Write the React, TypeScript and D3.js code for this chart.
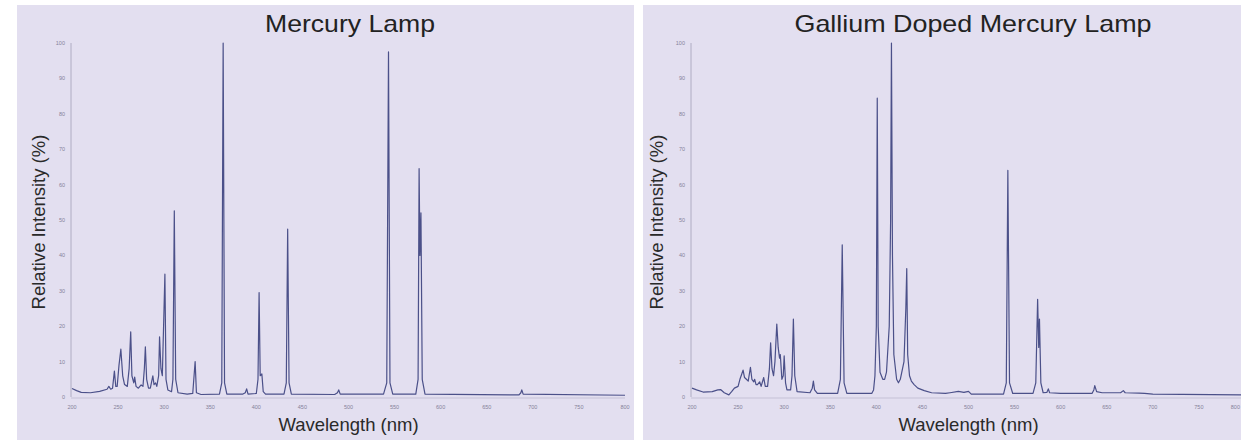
import React from 'react';
import * as d3 from 'd3';

// spectra: wavelength (nm) and relative intensity (%)
const mercuryNm = [
  200, 205, 210, 220, 230, 238, 240, 242, 244, 246, 247.5, 249, 251, 253, 255, 257, 260, 262, 263.7, 265,
  267, 268, 269.5, 272, 275, 277, 278.5, 279.6, 281, 283, 285, 287.7, 289, 290.7, 292, 294, 295, 296.5, 298, 300.8,
  302, 304, 308, 309.5, 311, 312.5, 315, 325, 331, 333.6, 335, 340, 360, 362.5, 364, 365.5, 368, 385, 388, 389.5,
  391, 400, 401.8, 403, 404.2, 406, 407.5, 410, 430, 432.5, 434, 435.5, 438, 485, 488, 489.4, 491, 538, 541.5, 543.4,
  545, 548, 573, 575.5, 576.6, 577.5, 578.6, 580, 583, 685, 687, 688, 689.5, 800,
];
const mercuryPct = [
  2.4, 1.8, 1.3, 1.2, 1.6, 2.2, 3.0, 2.2, 2.5, 7.3, 3, 3, 9, 13.5, 6, 3.5, 3, 8, 18.4, 6,
  4, 5.6, 3, 2.5, 3.4, 3, 8, 14.2, 5, 2.5, 2.5, 6, 3.5, 4, 3, 6, 17, 8, 6, 34.7,
  5, 2, 1.5, 5, 52.6, 5, 1.2, 0.8, 1, 10, 1.2, 0.7, 0.8, 4, 100, 4, 0.8, 0.8, 1.2, 2.3,
  0.8, 1, 5, 29.5, 6, 6.5, 1.5, 0.8, 0.8, 4, 47.4, 4, 0.8, 0.7, 1.2, 2, 0.8, 0.8, 4, 97.5,
  4, 0.8, 0.8, 5, 64.5, 40, 52, 5, 0.8, 0.6, 1.2, 2, 0.8, 0.5,
];

const galliumNm = [
  200, 205, 212, 222, 228, 231, 235, 240, 243, 246, 250, 252, 254, 255.4, 257, 259, 261, 263.4, 265, 267,
  268, 269.5, 271, 273.4, 275, 277.8, 279.5, 282, 284, 285.3, 286.8, 288.5, 290, 292, 293.5, 295, 295.8, 297.5, 299, 300,
  301.5, 303, 307, 308.5, 310, 311.5, 314, 328, 330.5, 331.7, 333, 336, 358, 361, 363, 365, 368, 395, 397, 398.5,
  400, 401, 402, 404, 407, 409, 411, 414, 415.5, 416.4, 417.5, 419, 422, 424, 426, 430, 432, 433, 434, 436,
  438, 441, 445, 452, 460, 475, 480, 489, 495, 500, 503, 538, 541, 542.7, 544.5, 548, 570, 573, 575, 576.2,
  577, 578.5, 581, 585, 586.6, 588, 600, 634, 636, 637, 639, 645, 665, 668, 670, 685, 691, 700, 800,
];
const galliumPct = [
  2.5, 2, 1.4, 1.5, 2, 2.1, 1.2, 0.6, 1.5, 2.5, 3, 5, 6.5, 7.6, 5.5, 5, 4.5, 8.4, 5, 4.3,
  5, 3.5, 3.5, 4.3, 3, 5.5, 3, 3, 8, 15.3, 8, 6, 10, 20.6, 14, 11, 12, 5, 6, 11.6,
  4, 2, 2, 6, 22, 6, 1.5, 1.2, 2.5, 4.5, 2, 1, 1, 5, 43, 4, 1, 1, 2, 6,
  20, 84.4, 20, 7, 5, 5, 7, 20, 50, 100, 40, 12, 5, 4, 5, 10, 25, 36.3, 12, 6,
  4.5, 3.5, 2.5, 1.8, 1.2, 1, 1.2, 1.6, 1.3, 1.6, 0.8, 0.8, 4, 64, 4, 1, 1, 4, 27.6, 14,
  22, 4, 1.2, 1.3, 2.3, 1.2, 1, 1, 2, 3.2, 1.5, 1.2, 1.2, 1.8, 1.2, 1.1, 1, 0.8, 0.6,
];

const yTicks = [0, 10, 20, 30, 40, 50, 60, 70, 80, 90, 100];
const xTicks = [200, 250, 300, 350, 400, 450, 500, 550, 600, 650, 700, 750, 800];

const panels = [
  { title: 'Mercury Lamp', nm: mercuryNm, pct: mercuryPct, dx: 0, titleX: 350, titleLen: 170 },
  { title: 'Gallium Doped Mercury Lamp', nm: galliumNm, pct: galliumPct, dx: 620, titleX: 973, titleLen: 357 },
];

const x = d3.scaleLinear().domain([200, 800]).range([72, 625]);
const y = d3.scaleLinear().domain([0, 100]).range([397, 43]);

const line = d3
  .line<number[]>()
  .x(d => x(d[0]))
  .y(d => y(d[1]));

const font = 'Liberation Sans, Arial, sans-serif';

export default function App() {
  return (
    <svg width={1241} height={443} style={{ position: 'absolute', left: 0, top: 0, background: '#fff' }}>
      {panels.map((p, pi) => {
        const pts = p.nm.map((n, i) => [n, p.pct[i]]);
        return (
          <g key={pi} transform={'translate(' + p.dx + ',0)'}>
            <rect x={pi === 0 ? 17 : 23} y={5} width={pi === 0 ? 617 : 600} height={435} fill="#e3dff0" />
            <line x1={71} x2={71} y1={y(100)} y2={y(0)} stroke="#a29fb8" strokeWidth={0.8} />
            <line x1={71} x2={x(800)} y1={y(0) + 1} y2={y(0) + 1} stroke="#b3afc6" strokeWidth={0.6} />
            {yTicks.map(t => (
              <text key={t} x={65} y={y(t) + 2} fontSize={5.5} fill="#85829a" textAnchor="end" fontFamily={font}>
                {t}
              </text>
            ))}
            {xTicks.map(t => {
              // the right panel's last label sits at the picture's edge
              const last = pi === 1 && t === 800;
              return (
                <text
                  key={t}
                  x={last ? 1240 - p.dx : x(t)}
                  y={409}
                  fontSize={5.5}
                  fill="#85829a"
                  textAnchor={last ? 'end' : 'middle'}
                  fontFamily={font}
                >
                  {t}
                </text>
              );
            })}
            <path d={line(pts) || ''} fill="none" stroke="#4b5089" strokeWidth={1.2} strokeLinejoin="round" />
            <text
              x={p.titleX - p.dx}
              y={32}
              fontSize={24}
              fill="#222"
              textAnchor="middle"
              fontFamily={font}
              textLength={p.titleLen}
              lengthAdjust="spacingAndGlyphs"
            >
              {p.title}
            </text>
            <text x={(x(200) + x(800)) / 2} y={431} fontSize={18.5} fill="#2a2a2a" textAnchor="middle" fontFamily={font}>
              Wavelength (nm)
            </text>
            <text
              transform={'translate(' + (pi === 0 ? 45 : 43) + ',222) rotate(-90)'}
              fontSize={18.5}
              fill="#2a2a2a"
              textAnchor="middle"
              fontFamily={font}
            >
              Relative Intensity (%)
            </text>
          </g>
        );
      })}
    </svg>
  );
}
